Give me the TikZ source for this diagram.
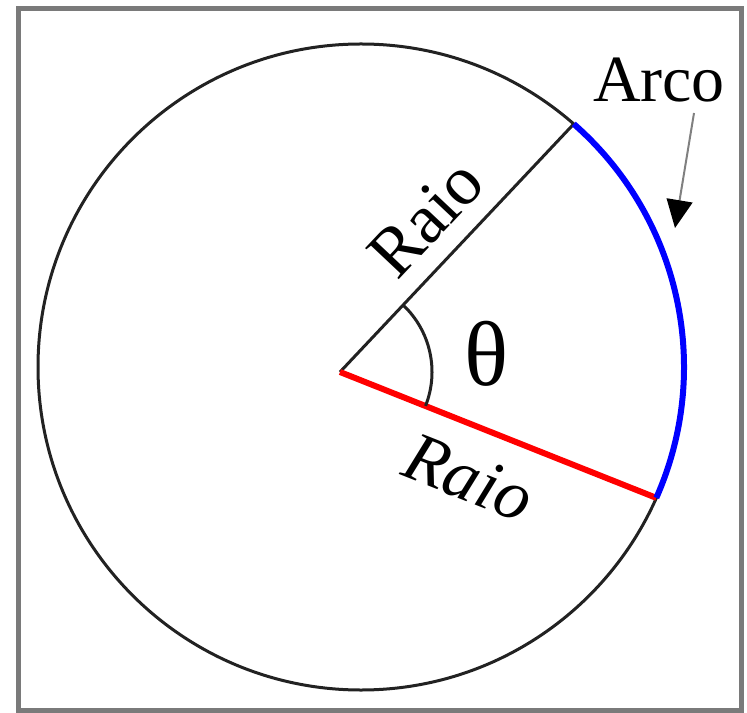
\documentclass[tikz,border=0pt]{standalone}
\usepackage{fontspec}
\setmainfont{Liberation Serif}
\usetikzlibrary{arrows.meta,calc}
\definecolor{cframe}{HTML}{7A7A7A}
\definecolor{cline}{HTML}{222222}
\definecolor{carc}{HTML}{0000FF}
\definecolor{cradius}{HTML}{FF0000}
\definecolor{cpoint}{HTML}{808080}
\tikzset{
  frame/.style={draw=cframe, line width=2.5pt},
  circline/.style={draw=cline, line width=1.5pt},
  radline/.style={draw=cradius, line width=3pt},
  arcline/.style={draw=carc, line width=3pt},
  lbl/.style={inner sep=0pt, font=\fontsize{33}{36}\selectfont},
  lblr/.style={inner sep=0pt, font=\fontsize{35}{38}\selectfont},
  lbli/.style={inner sep=0pt, font=\fontsize{35}{38}\selectfont\itshape},
  pointer/.style={-{Triangle[length=14pt,width=13pt,color=black]},
                  draw=cpoint, line width=1pt},
}

\begin{document}
\begin{tikzpicture}[x=0.5pt, y=0.5pt]
  \useasboundingbox (0,0) rectangle (747,712);
  \draw[frame] (18,2) rectangle (741,703);
  % circle and radii
  \coordinate (C) at (361,345);
  \coordinate (O) at (340,340);
  \coordinate (A) at ($(C)+(48.8:323)$);
  \coordinate (B) at ($(C)+(-23.9:323)$);
  \draw[circline] (C) circle[radius=161.5pt];
  \draw[circline] (O) -- (A);
  \draw[radline] (O) -- (B);
  \draw[arcline] (A) arc[start angle=48.8, end angle=-23.9, radius=161.5pt];
  % angle
  \draw[circline] (O) ++(46.7:92) arc[start angle=46.7, end angle=-21.6, radius=46pt];
  \node[lbl, font=\fontsize{46}{50}\selectfont] (theta) at (487,358) {θ};
  % labels
  \node[lblr, rotate=46.7] (raioA) at (426,494) {Raio};
  \node[lbli, rotate=-21.6] (raioB) at (469,234) {Raio};
  \node[lbl] (arco) at (659,632) {Arco};
  \coordinate (arcotail) at (694,599);
  \coordinate (arcotip) at (675,484);
  \draw[pointer] (arcotail) -- (arcotip);
\end{tikzpicture}
\end{document}
